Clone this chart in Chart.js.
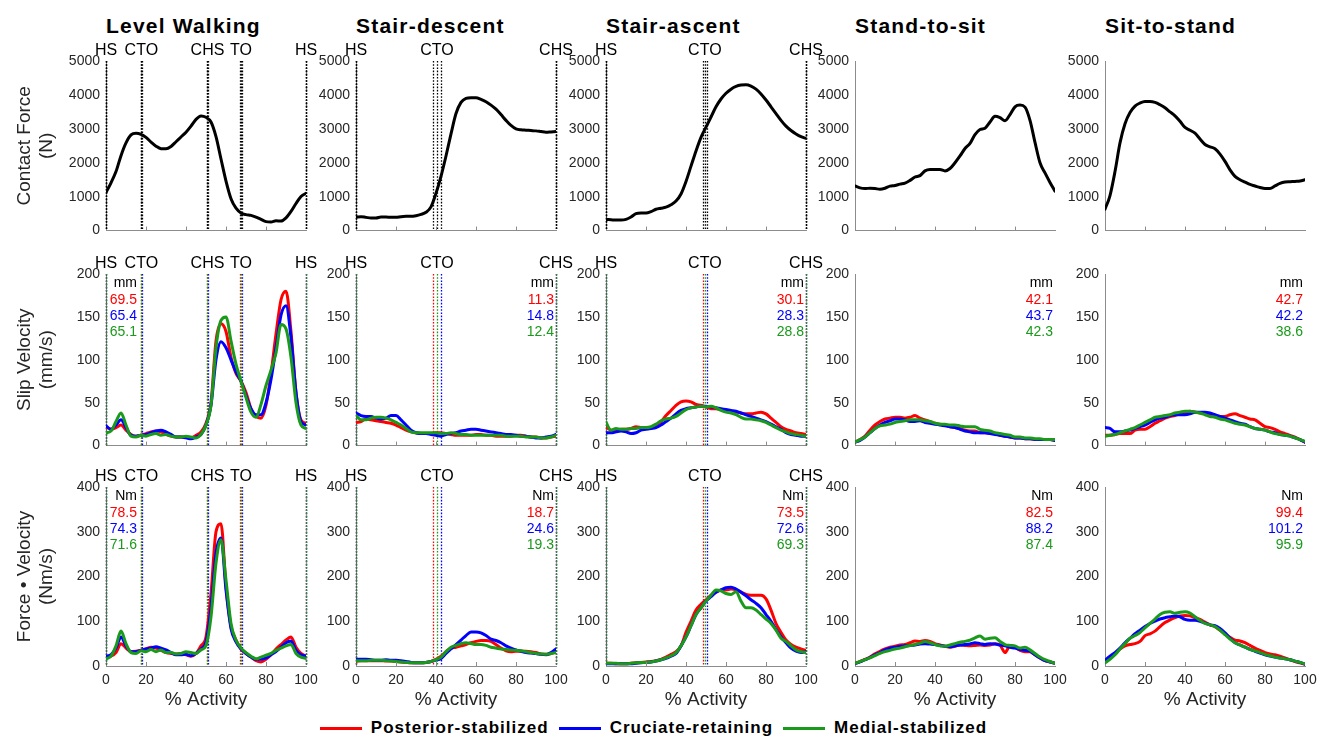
<!DOCTYPE html>
<html>
<head>
<meta charset="utf-8">
<script src="https://cdn.jsdelivr.net/npm/chart.js@4.4.1/dist/chart.umd.min.js"></script>
<style>
  body { margin: 0; background: #fff; width: 1317px; height: 739px; overflow: hidden; position: relative;
         font-family: "Liberation Sans", Helvetica, Arial, sans-serif; }
  canvas { position: absolute; }
  .title { position: absolute; top: 15px; font-size: 21px; line-height: 21px; font-weight: bold;
           letter-spacing: 1.2px; color: #000; white-space: nowrap; }
  #legend { position: absolute; left: 0; top: 718px; width: 1317px; height: 20px; display: flex;
            justify-content: center; align-items: center; font-size: 17px; font-weight: bold; letter-spacing: 1px; }
  .key { display: inline-block; width: 42px; height: 3px; margin-right: 9px; }
  .lab { margin-right: 10px; }
</style>
</head>
<body>
<div id="legend"></div>
<script>
/* =========================================================
   1. DATA
========================================================= */

const pct = [0, 2.5, 5, 7.5, 10, 12.5, 15, 17.5, 20, 22.5, 25, 27.5, 30, 32.5, 35, 37.5, 40, 42.5, 45, 47.5,
             50, 52.5, 55, 57.5, 60, 62.5, 65, 67.5, 70, 72.5, 75, 77.5, 80, 82.5, 85, 87.5, 90, 92.5, 95, 97.5, 100];

const activities = ['Level Walking', 'Stair-descent', 'Stair-ascent', 'Stand-to-sit', 'Sit-to-stand'];
const implants = ['Posterior-stabilized', 'Cruciate-retaining', 'Medial-stabilized'];

// contact force (N)
const levelForce = [1120,1410,1740,2210,2585,2820,2870,2840,2750,2610,2490,2415,2410,2480,2620,2760,2900,3080,3280,3380,3340,3200,2770,2110,1460,940,660,520,470,450,400,330,265,255,290,280,375,565,800,1005,1100];
const descentForce = [400,410,390,370,370,400,400,390,390,410,420,420,440,480,540,700,1100,1600,2200,2850,3450,3780,3900,3920,3920,3870,3800,3700,3580,3420,3250,3100,3000,2970,2960,2950,2940,2920,2900,2910,2920];
const ascentForce = [330,320,310,310,330,400,500,520,520,560,630,660,690,760,870,1080,1450,1900,2350,2750,3050,3350,3650,3880,4050,4170,4250,4290,4300,4260,4170,4030,3850,3650,3450,3250,3080,2950,2850,2770,2720];
const standSitForce = [1316,1260,1240,1250,1240,1220,1250,1310,1330,1370,1400,1480,1580,1620,1760,1800,1800,1800,1760,1830,2000,2200,2420,2570,2830,2980,3020,3200,3370,3330,3240,3420,3650,3700,3640,3250,2600,2000,1700,1420,1160];
const sitStandForce = [630,1034,1740,2585,3150,3480,3670,3760,3807,3807,3780,3710,3620,3500,3385,3225,3040,2960,2870,2700,2540,2470,2415,2255,2040,1790,1600,1500,1430,1360,1316,1270,1240,1240,1316,1390,1430,1440,1450,1460,1500];

// slip velocity (mm/s)
const levelSlipPS = [22,19,21,24,18,13,11,12,14,16,17,16,13,11,10,10,10,9,12,16,26,50,122,142,133,103,84,75,62,43,34,32,47,84,130,170,180,133,62,30,26];
const levelSlipCR = [23,19,24,30,21,12,11,12,13,15,17,18,16,13,10,10,9,8,10,13,24,47,100,121,114,100,86,75,58,43,36,36,50,77,114,152,163,126,62,28,24];
const levelSlipMS = [15,17,28,38,24,11,10,12,11,13,14,12,13,11,10,10,11,10,9,13,24,47,114,146,150,122,95,75,56,39,33,48,70,88,108,141,136,103,50,24,20];
const descentSlipPS = [27,28,31,30,29,28,27,26,24,21,18,16,15,14,14,14,15,15,14,13,12,12,12,12,13,13,12,12,11,11,11,11,12,12,11,10,10,9,9,10,11];
const descentSlipCR = [38,35,34,34,32,31,32,35,35,30,24,18,15,14,14,13,12,11,13,14,15,17,18,19,19,18,17,16,15,14,13,13,12,11,11,10,9,9,10,11,13];
const descentSlipMS = [35,30,30,32,33,33,32,30,27,24,20,16,15,15,15,15,15,14,14,15,14,13,13,12,12,12,12,12,12,12,11,11,11,11,10,10,10,9,9,10,12];
const ascentSlipPS = [22,18,18,19,19,20,22,21,20,20,24,28,35,41,47,51,52,51,48,47,45,43,43,42,41,40,39,38,37,37,38,39,37,32,27,22,19,17,15,14,13];
const ascentSlipCR = [15,15,16,17,16,14,15,18,19,20,21,24,28,32,37,41,43,44,45,46,46,45,44,43,42,41,40,38,36,34,32,30,28,25,22,19,15,13,12,11,11];
const ascentSlipMS = [27,18,20,19,19,20,20,21,21,22,25,29,31,32,34,38,42,44,45,46,45,46,44,41,39,38,36,33,31,31,30,29,27,24,21,18,16,14,13,12,11];
const standSitSlipPS = [4,7,11,18,24,28,31,32,33,33,32,33,35,32,30,28,26,25,24,22,21,20,18,17,17,15,15,14,14,12,11,10,9,9,8,8,7,7,7,7,6];
const standSitSlipCR = [4,6,10,15,20,24,27,29,31,31,30,28,28,29,27,26,25,24,23,22,21,19,17,16,15,15,15,14,13,12,11,10,9,9,8,8,7,7,7,7,6];
const standSitSlipMS = [4,7,10,15,20,23,24,25,27,28,29,30,30,30,29,28,26,25,25,24,24,23,22,22,22,19,18,17,15,14,13,12,10,10,9,9,8,8,7,7,7];
const sitStandSlipPS = [12,12,13,14,14,14,18,19,19,22,26,29,32,34,35,37,38,40,39,38,37,36,35,34,34,36,37,35,33,31,30,26,22,21,19,16,14,12,10,7,4];
const sitStandSlipCR = [21,20,16,16,17,18,20,22,24,27,30,32,33,35,36,36,36,37,39,39,39,38,36,34,32,30,28,26,25,22,20,19,18,16,15,13,12,11,9,7,4];
const sitStandSlipMS = [11,12,13,15,17,19,21,24,27,30,33,34,35,36,38,39,40,40,39,38,36,34,33,31,30,28,26,25,24,22,20,19,18,16,14,13,12,11,9,7,5];

// force * velocity (Nm/s)
const levelPowerPS = [20,22,30,50,40,32,33,35,38,42,40,35,30,28,27,28,25,22,28,45,65,162,300,318,177,88,58,38,28,20,12,9,15,25,38,48,58,65,42,28,22];
const levelPowerCR = [22,25,40,65,45,32,32,35,38,40,43,40,36,30,25,25,26,23,28,38,54,132,252,286,170,84,54,38,28,20,15,15,18,25,32,42,52,56,35,25,22];
const levelPowerMS = [16,22,45,78,50,30,28,34,32,37,32,36,30,30,27,28,32,30,28,36,46,110,230,282,192,95,58,40,30,22,16,20,24,28,35,40,45,48,28,20,17];
const descentPowerPS = [10,12,12,12,12,12,11,11,10,9,8,7,7,7,8,10,15,22,32,40,42,45,48,52,55,57,57,55,48,40,34,32,33,33,33,32,30,27,26,28,32];
const descentPowerCR = [15,15,15,14,13,13,14,13,13,12,10,8,7,7,8,10,13,17,28,38,48,58,68,76,76,74,68,60,57,52,45,40,36,33,30,29,28,26,25,30,38];
const descentPowerMS = [12,12,12,13,13,13,12,11,10,9,8,7,7,7,8,10,14,20,32,42,46,50,52,50,48,48,46,42,40,38,37,36,35,34,32,30,28,27,26,28,30];
const ascentPowerPS = [6,6,5,5,5,6,7,8,9,10,12,15,20,26,32,45,75,100,125,138,148,158,165,170,170,172,170,165,160,158,158,158,150,125,95,75,58,48,42,38,35];
const ascentPowerCR = [5,5,5,5,5,5,6,7,8,9,11,14,17,22,28,45,65,90,115,130,145,155,165,170,175,176,172,165,157,148,140,130,115,100,82,65,52,40,33,30,32];
const ascentPowerMS = [6,6,6,5,5,6,7,8,8,9,11,14,18,23,30,45,65,90,115,130,145,158,170,168,162,160,166,145,130,130,125,115,105,95,80,62,55,45,36,32,30];
const standSitPowerPS = [6,10,15,20,27,33,38,42,44,47,48,52,56,55,57,55,50,47,44,42,44,47,46,45,46,47,46,47,50,47,30,45,42,35,32,32,25,18,12,9,6];
const standSitPowerCR = [5,9,14,19,25,30,36,40,42,44,45,46,47,49,50,49,48,46,44,43,45,47,48,49,52,50,48,50,49,47,45,42,40,37,35,33,25,18,12,9,6];
const standSitPowerMS = [6,10,14,18,23,28,32,35,38,40,43,46,48,51,55,52,48,45,44,47,50,53,55,58,63,67,60,62,63,55,48,46,45,40,42,36,28,20,14,10,6];
const sitStandPowerPS = [10,18,28,38,45,48,50,55,68,72,78,88,97,103,108,112,113,112,108,104,98,92,88,80,72,64,58,56,52,46,40,35,30,27,25,22,18,14,10,7,4];
const sitStandPowerCR = [13,22,30,40,52,62,72,80,88,95,100,105,108,110,112,110,104,102,102,100,96,92,90,84,74,62,52,47,42,37,33,29,25,22,20,18,16,14,11,8,4];
const sitStandPowerMS = [7,15,25,38,50,62,68,75,85,95,105,115,120,121,118,120,121,118,110,102,95,92,88,80,70,60,52,47,42,37,34,30,26,23,20,18,16,14,11,8,5];

// slip distance (mm) and work (Nm) per implant
const slipMm = [['69.5','65.4','65.1'], ['11.3','14.8','12.4'], ['30.1','28.3','28.8'], ['42.1','43.7','42.3'], ['42.7','42.2','38.6']];
const powerNm = [['78.5','74.3','71.6'], ['18.7','24.6','19.3'], ['73.5','72.6','69.3'], ['82.5','88.2','87.4'], ['99.4','101.2','95.9']];

// gait events (% activity) per implant
const levelEventNames = ['HS', 'CTO', 'CHS', 'TO', 'HS'];
const levelEventsPS = [0, 17.3, 50.5, 67.2, 100];
const levelEventsCR = [0, 18.1, 51.0, 67.8, 100];
const levelEventsMS = [0, 17.6, 50.7, 67.4, 100];
const descentEventNames = ['HS', 'CTO', 'CHS'];
const descentEventsPS = [0, 38.4, 100];
const descentEventsCR = [0, 42.6, 100];
const descentEventsMS = [0, 40.4, 100];
const ascentEventNames = ['HS', 'CTO', 'CHS'];
const ascentEventsPS = [0, 48.6, 100];
const ascentEventsCR = [0, 50.4, 100];
const ascentEventsMS = [0, 49.3, 100];

const forceData = [levelForce, descentForce, ascentForce, standSitForce, sitStandForce];
const slipData = [
    [levelSlipPS, levelSlipCR, levelSlipMS],
    [descentSlipPS, descentSlipCR, descentSlipMS],
    [ascentSlipPS, ascentSlipCR, ascentSlipMS],
    [standSitSlipPS, standSitSlipCR, standSitSlipMS],
    [sitStandSlipPS, sitStandSlipCR, sitStandSlipMS]
];
const powerData = [
    [levelPowerPS, levelPowerCR, levelPowerMS],
    [descentPowerPS, descentPowerCR, descentPowerMS],
    [ascentPowerPS, ascentPowerCR, ascentPowerMS],
    [standSitPowerPS, standSitPowerCR, standSitPowerMS],
    [sitStandPowerPS, sitStandPowerCR, sitStandPowerMS]
];
const eventNames = [levelEventNames, descentEventNames, ascentEventNames, null, null];
const eventSets = [
    [levelEventsPS, levelEventsCR, levelEventsMS],
    [descentEventsPS, descentEventsCR, descentEventsMS],
    [ascentEventsPS, ascentEventsCR, ascentEventsMS],
    null, null
];

/* =========================================================
   2. LAYOUT / STYLE
========================================================= */

const FONT = '"Liberation Sans", Helvetica, Arial, sans-serif';
const COLORS = ['#ff0000', '#0000ff', '#1a9a1a'];
const AXIS = '#8c8c8c';
const TEXT = '#262626';

const plotLeft = [106, 356, 606, 855, 1105];
const PLOT_W = 200;
const PAD_R = 24;

const rows = [
    { top: 0,   height: 245, padTop: 61, padBottom: 5, axisH: 2,  max: 5000, step: 1000, label: ['Contact Force', '(N)'] },
    { top: 245, height: 215, padTop: 29, padBottom: 6, axisH: 2,  max: 200,  step: 50,   label: ['Slip Velocity', '(mm/s)'], unit: 'mm' },
    { top: 460, height: 260, padTop: 27, padBottom: 9, axisH: 45, max: 400,  step: 100,  label: ['Force \u2022 Velocity', '(Nm/s)'], unit: 'Nm' }
];

// where the stat column sits (right edge, % activity) - null = plot right edge
const statAnchor = [15.5, null, null, null, null];

Chart.defaults.font.family = FONT;
Chart.defaults.color = TEXT;

/* =========================================================
   3. PANEL DECOR PLUGIN
========================================================= */

function decorPlugin(r, c) {
    return {
        id: 'decor',
        beforeDatasetsDraw(chart) {
            const sets = eventSets[c];
            if (!sets) return;
            const { ctx, chartArea: a, scales: { x } } = chart;
            ctx.save();
            ctx.lineWidth = 1.3;
            ctx.setLineDash([1.6, 1.6]);
            sets.forEach((set, k) => {
                ctx.strokeStyle = r === 0 ? '#000' : COLORS[k];
                set.forEach(v => {
                    const px = Math.round(x.getPixelForValue(v)) + 0.5;
                    ctx.beginPath();
                    ctx.moveTo(px, a.top);
                    ctx.lineTo(px, a.bottom);
                    ctx.stroke();
                });
            });
            ctx.restore();
        },
        afterDraw(chart) {
            const { ctx, chartArea: a, scales: { x } } = chart;
            ctx.save();

            // inward x ticks
            ctx.strokeStyle = AXIS;
            ctx.lineWidth = 1;
            [20, 40, 60, 80].forEach(v => {
                const px = Math.round(x.getPixelForValue(v)) + 0.5;
                ctx.beginPath();
                ctx.moveTo(px, a.bottom);
                ctx.lineTo(px, a.bottom - 4);
                ctx.stroke();
            });

            // event names
            const names = eventNames[c];
            if (names) {
                const sets = eventSets[c];
                ctx.font = '16px ' + FONT;
                ctx.fillStyle = '#000';
                ctx.textAlign = 'center';
                ctx.textBaseline = 'alphabetic';
                names.forEach((n, i) => {
                    const mean = (sets[0][i] + sets[1][i] + sets[2][i]) / 3;
                    ctx.fillText(n, x.getPixelForValue(mean), a.top - 6);
                });
            }

            // unit + per implant numbers
            const row = rows[r];
            if (row.unit) {
                const vals = r === 1 ? slipMm[c] : powerNm[c];
                const xr = statAnchor[c] === null ? a.right - 2 : x.getPixelForValue(statAnchor[c]);
                ctx.font = '14px ' + FONT;
                ctx.textAlign = 'right';
                ctx.textBaseline = 'alphabetic';
                ctx.fillStyle = '#000';
                ctx.fillText(row.unit, xr, a.top + 13);
                vals.forEach((v, k) => {
                    ctx.fillStyle = COLORS[k];
                    ctx.fillText(v, xr, a.top + 30 + 16 * k);
                });
            }
            ctx.restore();
        }
    };
}

/* =========================================================
   4. CHARTS
========================================================= */

function series(values) {
    return pct.map((p, i) => ({ x: p, y: values[i] }));
}

function buildDatasets(r, c) {
    if (r === 0) {
        return [{ data: series(forceData[c]), borderColor: '#000', borderWidth: 3 }];
    }
    const group = r === 1 ? slipData[c] : powerData[c];
    // green drawn last (on top), red first
    return group.map((vals, k) => ({
        label: implants[k],
        data: series(vals),
        borderColor: COLORS[k],
        borderWidth: 3,
        order: 2 - k
    }));
}

function makePanel(r, c) {
    const row = rows[r];
    const yw = c === 0 ? 106 : 50;
    const cv = document.createElement('canvas');
    cv.width = yw + PLOT_W + PAD_R;
    cv.height = row.height;
    cv.style.left = (plotLeft[c] - yw) + 'px';
    cv.style.top = row.top + 'px';
    document.body.appendChild(cv);

    const bottomRow = r === 2;

    new Chart(cv, {
        type: 'line',
        data: { datasets: buildDatasets(r, c) },
        options: {
            responsive: false,
            animation: false,
            devicePixelRatio: 1,
            layout: { padding: { top: row.padTop, bottom: row.padBottom, left: 0, right: PAD_R } },
            elements: {
                point: { radius: 0 },
                line: { cubicInterpolationMode: 'monotone', borderJoinStyle: 'round', borderCapStyle: 'round' }
            },
            plugins: { legend: { display: false }, tooltip: { enabled: false } },
            scales: {
                x: {
                    type: 'linear', min: 0, max: 100,
                    grid: { display: false, drawTicks: false },
                    border: { display: true, color: AXIS, width: 1 },
                    ticks: { display: bottomRow, stepSize: 20, autoSkip: false, maxRotation: 0,
                             padding: 6, font: { size: 14 }, color: TEXT, callback: v => String(v) },
                    title: { display: bottomRow, text: '% Activity', font: { size: 19 },
                             color: TEXT, padding: { top: 0, bottom: 0 } },
                    afterFit: s => { s.height = row.axisH; }
                },
                y: {
                    min: 0, max: row.max,
                    grid: { display: false, drawTicks: false },
                    border: { display: true, color: AXIS, width: 1 },
                    ticks: { stepSize: row.step, autoSkip: false, padding: 6, font: { size: 14 },
                             color: TEXT, callback: v => String(v) },
                    title: { display: c === 0, text: row.label, font: { size: 19, lineHeight: 1.2 },
                             color: TEXT, padding: { top: 13, bottom: 0 } },
                    afterFit: s => { s.width = yw; }
                }
            }
        },
        plugins: [decorPlugin(r, c)]
    });
}

/* =========================================================
   5. TITLES, LEGEND, START
========================================================= */

activities.forEach((t, c) => {
    const d = document.createElement('div');
    d.className = 'title';
    d.style.left = plotLeft[c] + 'px';
    d.textContent = t;
    document.body.appendChild(d);
});

const legend = document.getElementById('legend');
implants.forEach((name, k) => {
    const key = document.createElement('span');
    key.className = 'key';
    key.style.background = COLORS[k];
    const lab = document.createElement('span');
    lab.className = 'lab';
    lab.textContent = name;
    legend.appendChild(key);
    legend.appendChild(lab);
});

rows.forEach((_, r) => activities.forEach((_, c) => makePanel(r, c)));
</script>
</body>
</html>
